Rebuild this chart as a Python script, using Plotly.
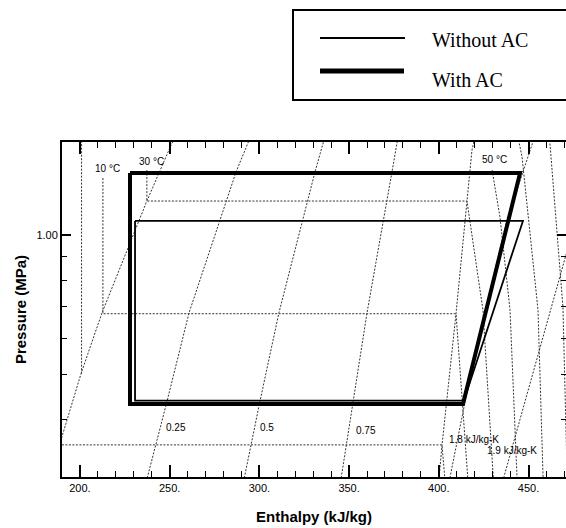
import math
import plotly.graph_objects as go

# ---------------- data (enthalpy h in kJ/kg, pressure p in MPa) ----------------
# refrigeration cycles
with_ac_h = [227.9, 445.3, 413.5, 227.9, 227.9]
with_ac_p = [1.359, 1.359, 0.433, 0.433, 1.359]
without_ac_h = [230.7, 446.9, 414.0, 230.7, 230.7]
without_ac_p = [1.072, 1.072, 0.440, 0.440, 1.072]

# saturation dome
sat_liq_h = [188.6, 200.6, 212.3, 237.3, 251.3, 252.5]
sat_liq_p = [0.3535, 0.503, 0.680, 1.183, 1.577, 1.60]
sat_vap_h = [400.0, 401.8, 409.6, 415.7, 418.5, 419.8]
sat_vap_p = [0.295, 0.3535, 0.677, 1.183, 1.523, 1.60]

# isotherms
iso_0_h = [188.0, 401.8, 403.5]
iso_0_p = [0.3535, 0.3535, 0.295]
iso_10_h = [212.8, 212.8, 409.6, 416.3]
iso_10_p = [1.326, 0.677, 0.677, 0.295]
iso_30_h = [237.3, 237.3, 415.7, 424.6, 430.5]
iso_30_p = [1.379, 1.183, 1.183, 0.690, 0.295]
iso_50_h = [429.7, 434.1, 439.7, 443.7]
iso_50_p = [1.379, 1.093, 0.690, 0.295]
iso_70_h = [444.5, 446.4, 455.3, 458.2]
iso_70_p = [1.60, 1.472, 0.690, 0.295]
iso_90_h = [461.8, 469.2, 471.6]
iso_90_p = [1.60, 0.700, 0.295]

# isentropes
s_10_h = [200.9, 200.9]
s_10_p = [0.503, 1.60]
s_18_h = [405.8, 418.5, 438.0, 452.8]
s_18_p = [0.295, 0.520, 1.077, 1.60]
s_19_h = [435.6, 456.4, 470.9, 489.0]
s_19_p = [0.295, 0.574, 0.906, 1.60]

# constant-quality lines
quality_p = [0.295, 0.438, 0.680, 1.366, 1.60]
q25_h = [237.0, 248.5, 260.8, 287.0, 294.3]
q50_h = [291.2, 300.3, 310.9, 331.0, 336.0]
q75_h = [345.3, 352.2, 360.0, 373.9, 377.0]

# ticks
x_tick_vals = [200, 250, 300, 350, 400, 450]
x_tick_text = ["200.", "250.", "300.", "350.", "400.", "450."]
y_tick_vals = [1.0]
y_tick_text = ["1.00"]
y_minor_vals = [0.4, 0.5, 0.6, 0.7, 0.8, 0.9]

# chart labels (text, h, p)
label_text = ["10 °C", "30 °C", "50 °C", "0.25", "0.5", "0.75", "1.8 kJ/kg-K", "1.9 kJ/kg-K"]
label_h = [215.6, 240.1, 430.8, 253.5, 304.2, 359.4, 419.6, 440.8]
label_p = [1.387, 1.436, 1.450, 0.3845, 0.3845, 0.379, 0.3623, 0.343]

# ---------------- figure ----------------
fig = go.Figure()

bg_style = dict(color="#333333", width=1, dash="2px,1.5px")
background = [
    ("Saturated liquid", sat_liq_h, sat_liq_p),
    ("Saturated vapour", sat_vap_h, sat_vap_p),
    ("Isotherm", iso_0_h, iso_0_p),
    ("10 °C", iso_10_h, iso_10_p),
    ("30 °C", iso_30_h, iso_30_p),
    ("50 °C", iso_50_h, iso_50_p),
    ("70 °C", iso_70_h, iso_70_p),
    ("90 °C", iso_90_h, iso_90_p),
    ("s = 1.0", s_10_h, s_10_p),
    ("s = 1.8 kJ/kg-K", s_18_h, s_18_p),
    ("s = 1.9 kJ/kg-K", s_19_h, s_19_p),
    ("x = 0.25", q25_h, quality_p),
    ("x = 0.5", q50_h, quality_p),
    ("x = 0.75", q75_h, quality_p),
]
for name, h, p in background:
    fig.add_trace(go.Scatter(x=h, y=p, mode="lines", name=name, line=bg_style,
                             showlegend=False, hoverinfo="skip"))

fig.add_trace(go.Scatter(x=without_ac_h, y=without_ac_p, mode="lines", name="Without AC",
                         line=dict(color="black", width=1.8), showlegend=False))
fig.add_trace(go.Scatter(x=with_ac_h, y=with_ac_p, mode="lines", name="With AC",
                         line=dict(color="black", width=4), showlegend=False))

# page geometry (the body margin is removed by the post script below)
W, H = 566, 528
L, R, T, B = 62, 566, 142, 477   # plot area in pixels


def px_x(px):
    """page pixel x -> paper coordinate"""
    return (px - L) / (R - L)


def px_y(py):
    """page pixel y -> paper coordinate"""
    return (B - py) / (B - T)


annotations = []
for t, h, p in zip(label_text, label_h, label_p):
    annotations.append(dict(x=h, y=math.log10(p), xref="x", yref="y", text=t, showarrow=False,
                            font=dict(family="Liberation Sans, Arial", size=10, color="black"),
                            xanchor="center", yanchor="middle"))

# manual legend (long line samples as in the reference)
legend_font = dict(family="Liberation Serif, Times New Roman", size=20, color="black")
annotations.append(dict(x=px_x(430), y=px_y(40), xref="paper", yref="paper", text="Without AC",
                        showarrow=False, xanchor="left", yanchor="middle", font=legend_font))
annotations.append(dict(x=px_x(430), y=px_y(80), xref="paper", yref="paper", text="With AC",
                        showarrow=False, xanchor="left", yanchor="middle", font=legend_font))

shapes = [
    dict(type="rect", xref="paper", yref="paper", x0=px_x(293), x1=px_x(575), y0=px_y(100), y1=px_y(10),
         line=dict(color="black", width=2), fillcolor="white", layer="above"),
    dict(type="line", xref="paper", yref="paper", x0=px_x(320), x1=px_x(405), y0=px_y(38), y1=px_y(38),
         line=dict(color="black", width=2)),
    dict(type="line", xref="paper", yref="paper", x0=px_x(320), x1=px_x(404), y0=px_y(71), y1=px_y(71),
         line=dict(color="black", width=5)),
]

fig.update_layout(
    width=W, height=H,
    margin=dict(l=L, r=W - R, t=T, b=H - B, pad=0, autoexpand=False),
    paper_bgcolor="white", plot_bgcolor="white",
    font=dict(family="Liberation Sans, Arial", size=11, color="black"),
    annotations=annotations,
    shapes=shapes,
    showlegend=False,
)
fig.update_xaxes(
    range=[190.0, 470.9], automargin=False,
    tickvals=x_tick_vals, ticktext=x_tick_text,
    ticks="inside", ticklen=12, tickwidth=1.5, tickcolor="black",
    minor=dict(dtick=10, tick0=0, ticks="inside", ticklen=6, tickwidth=1.2, tickcolor="black"),
    showline=True, linecolor="black", linewidth=2, mirror="ticks",
    showgrid=False, zeroline=False,
    tickfont=dict(size=11, color="black"),
    title=dict(text="Enthalpy (kJ/kg)", standoff=18,
               font=dict(family="Liberation Sans, Arial", size=15, color="black", weight="bold")),
)
fig.update_yaxes(
    type="log", automargin=False,
    range=[math.log10(0.3015), 0.2],
    tickvals=y_tick_vals, ticktext=y_tick_text,
    ticks="inside", ticklen=9, tickwidth=1.5, tickcolor="black",
    minor=dict(tickvals=y_minor_vals, ticks="inside", ticklen=5, tickwidth=1.2, tickcolor="black",
               showgrid=False),
    showline=True, linecolor="black", linewidth=2, mirror="ticks",
    showgrid=False, zeroline=False,
    tickfont=dict(size=11, color="black"),
    title=dict(text="Pressure (MPa)", standoff=6,
               font=dict(family="Liberation Sans, Arial", size=15, color="black", weight="bold")),
)

fig.write_html(
    "out.html",
    config={"displayModeBar": False},
    post_script="document.body.style.margin='0';document.documentElement.style.overflow='hidden';",
)
